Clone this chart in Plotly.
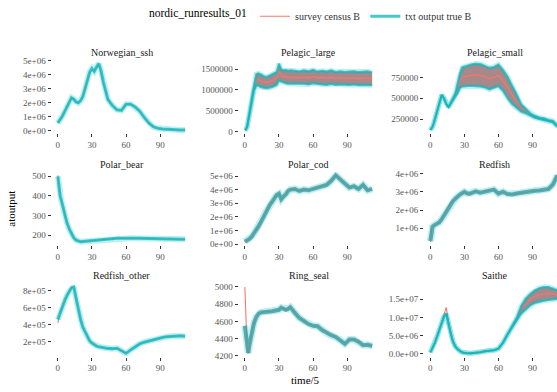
import plotly.graph_objects as go

# ---------------- data ----------------
TIME = [0, 1, 2, 3, 4, 6, 8, 10, 12, 14, 16, 18, 20, 22, 24, 26, 28, 30, 32, 34, 36, 38, 40,
        44, 48, 52, 56, 60, 64, 68, 72, 76, 80, 84, 88, 92, 96, 100, 104, 108, 112]

# Norwegian_ssh (millions)
NORWEGIAN_SSH_TRUE = [0.55, 0.65, 0.78, 0.92, 1.05, 1.35, 1.7, 2.05, 2.35, 2.25, 2.05, 2.0, 2.15, 2.45, 3.0, 3.7,
                      4.2, 4.45, 4.25, 4.55, 4.8, 4.3, 3.5, 2.25, 1.8, 1.5, 1.45, 1.9, 1.9, 1.7, 1.4, 0.95,
                      0.55, 0.28, 0.17, 0.12, 0.09, 0.07, 0.06, 0.05, 0.05]
NORWEGIAN_SSH_SURVEY = [0.55, 0.65, 0.78, 0.92, 1.05, 1.35, 1.7, 2.05, 2.35, 2.25, 2.05, 2.0, 2.15, 2.45, 3.0, 3.7,
                        4.1, 4.35, 4.25, 4.5, 4.75, 4.1, 3.4, 2.25, 1.8, 1.5, 1.45, 1.9, 1.9, 1.7, 1.4, 0.95,
                        0.55, 0.28, 0.17, 0.12, 0.09, 0.07, 0.06, 0.05, 0.05]

# Pelagic_large (millions)
PELAGIC_LARGE_TRUE_HI = [0.05, 0.07, 0.13, 0.3, 0.48, 0.8, 1.12, 1.38, 1.4, 1.37, 1.33, 1.31, 1.32, 1.35, 1.38, 1.4,
                         1.43, 1.63, 1.5, 1.47, 1.48, 1.46, 1.47, 1.46, 1.44, 1.47, 1.45, 1.48, 1.44, 1.46, 1.44,
                         1.47, 1.43, 1.45, 1.43, 1.44, 1.45, 1.43, 1.44, 1.45, 1.42]
PELAGIC_LARGE_TRUE_LO = [0.04, 0.05, 0.1, 0.25, 0.42, 0.72, 0.98, 1.1, 1.1, 1.07, 1.05, 1.04, 1.04, 1.05, 1.07, 1.09,
                         1.12, 1.22, 1.2, 1.17, 1.16, 1.15, 1.15, 1.14, 1.14, 1.15, 1.13, 1.16, 1.14, 1.13, 1.12,
                         1.14, 1.12, 1.13, 1.12, 1.12, 1.13, 1.11, 1.12, 1.12, 1.11]
PELAGIC_LARGE_SURVEY = [0.045, 0.06, 0.115, 0.28, 0.45, 0.76, 1.05, 1.24, 1.25, 1.22, 1.19, 1.18, 1.18, 1.2, 1.22,
                        1.25, 1.28, 1.45, 1.35, 1.32, 1.32, 1.3, 1.31, 1.3, 1.29, 1.31, 1.29, 1.32, 1.29, 1.3,
                        1.28, 1.3, 1.28, 1.29, 1.28, 1.28, 1.29, 1.27, 1.28, 1.28, 1.26]

# Pelagic_small (thousands)
PELAGIC_SMALL_TRUE_HI = [120, 135, 160, 200, 250, 350, 470, 540, 500, 430, 395, 440, 500, 560, 680, 800, 870, 880,
                         890, 900, 905, 910, 915, 910, 890, 865, 875, 905, 840, 760, 650, 550, 430, 370, 320, 290,
                         270, 260, 240, 230, 170]
PELAGIC_SMALL_TRUE_LO = [120, 135, 160, 200, 250, 350, 470, 540, 500, 430, 395, 440, 490, 520, 560, 620, 640, 640,
                         645, 650, 650, 650, 645, 640, 630, 605, 625, 645, 590, 500, 430, 380, 340, 320, 290, 265,
                         250, 240, 225, 210, 160]
PELAGIC_SMALL_SURVEY = [120, 135, 160, 200, 250, 350, 470, 540, 500, 430, 395, 440, 495, 540, 620, 710, 755, 760,
                        768, 775, 778, 780, 780, 775, 760, 735, 750, 775, 715, 630, 540, 465, 385, 345, 305, 278,
                        260, 250, 232, 220, 165]

# Polar_bear
POLAR_BEAR_TRUE = [500, 435, 400, 378, 355, 300, 262, 231, 205, 186, 174, 168, 166, 167, 168, 170, 172, 173, 175,
                   176, 177, 178, 179, 181, 182, 183, 183, 184, 184, 183, 183, 182, 182, 181, 181, 180, 180, 179,
                   179, 178, 178]
POLAR_BEAR_SURVEY = [505, 440, 400, 378, 355, 300, 262, 231, 205, 186, 174, 168, 166, 167, 168, 170, 172, 173, 175,
                     176, 177, 178, 179, 181, 182, 183, 183, 184, 184, 183, 183, 182, 182, 181, 181, 180, 180, 179,
                     179, 178, 178]

# Polar_cod (millions)
POLAR_COD_TRUE = [0.18, 0.22, 0.27, 0.32, 0.38, 0.55, 0.78, 1.02, 1.3, 1.6, 1.95, 2.3, 2.6, 2.88, 3.12, 3.38, 3.6,
                  3.7, 3.3, 3.5, 3.65, 3.9, 4.0, 4.05, 3.9, 4.0, 3.95, 4.05, 4.15, 4.25, 4.35, 4.65, 5.05, 4.75,
                  4.4, 4.15, 4.25, 4.05, 4.35, 3.95, 4.05]
POLAR_COD_SURVEY = [0.18, 0.22, 0.27, 0.32, 0.38, 0.55, 0.78, 1.02, 1.3, 1.6, 1.95, 2.3, 2.6, 2.88, 3.12, 3.38, 3.6,
                    3.7, 3.3, 3.5, 3.65, 3.9, 4.0, 4.05, 3.9, 4.0, 3.95, 4.05, 4.15, 4.25, 4.35, 4.65, 5.05, 4.75,
                    4.4, 4.15, 4.25, 4.05, 4.35, 3.95, 4.05]

# Redfish (millions)
REDFISH_TRUE = [0.3, 1.0, 1.1, 1.15, 1.18, 1.25, 1.33, 1.5, 1.7, 1.95, 2.2, 2.4, 2.5, 2.62, 2.75, 2.85, 2.92, 3.0,
                2.92, 2.88, 2.93, 3.0, 3.02, 2.95, 3.02, 3.05, 3.12, 2.9, 3.0, 2.88, 2.85, 2.9, 2.95, 2.98, 3.0,
                3.05, 3.07, 3.1, 3.15, 3.4, 3.9]
REDFISH_SURVEY = [0.27, 1.0, 1.1, 1.15, 1.18, 1.25, 1.33, 1.5, 1.7, 1.95, 2.2, 2.4, 2.5, 2.62, 2.75, 2.85, 2.92,
                  3.0, 2.92, 2.88, 2.93, 3.0, 3.02, 2.95, 3.02, 3.05, 3.12, 2.9, 3.0, 2.88, 2.85, 2.9, 2.95, 2.98,
                  3.0, 3.05, 3.07, 3.1, 3.15, 3.4, 3.9]

# Redfish_other (hundred-thousands)
REDFISH_OTHER_TRUE = [4.6, 5.0, 5.4, 5.8, 6.1, 6.8, 7.4, 7.9, 8.3, 8.4, 7.0, 5.6, 4.6, 3.7, 3.1, 2.5, 2.1, 1.85,
                      1.65, 1.5, 1.42, 1.36, 1.3, 1.22, 1.2, 1.25, 0.95, 0.65, 1.05, 1.45, 1.75, 1.95, 2.1, 2.25,
                      2.4, 2.5, 2.6, 2.65, 2.7, 2.7, 2.65]
REDFISH_OTHER_SURVEY = [4.2, 5.0, 5.4, 5.8, 6.1, 6.8, 7.4, 7.9, 8.3, 8.4, 7.0, 5.6, 4.6, 3.7, 3.1, 2.5, 2.1, 1.85,
                        1.65, 1.5, 1.42, 1.36, 1.3, 1.22, 1.2, 1.25, 0.95, 0.65, 1.05, 1.45, 1.75, 1.95, 2.1, 2.25,
                        2.4, 2.5, 2.6, 2.65, 2.7, 2.7, 2.65]

# Ring_seal
RING_SEAL_TRUE = [4550, 4430, 4300, 4235, 4330, 4480, 4580, 4650, 4690, 4705, 4710, 4715, 4712, 4715, 4718, 4722,
                  4728, 4735, 4760, 4750, 4735, 4745, 4765, 4700, 4640, 4605, 4570, 4550, 4545, 4500, 4465, 4440,
                  4420, 4385, 4340, 4390, 4390, 4365, 4325, 4330, 4315]
RING_SEAL_SURVEY = [5000, 4590, 4280, 4230, 4330, 4480, 4580, 4650, 4690, 4705, 4710, 4715, 4712, 4715, 4718, 4722,
                    4728, 4735, 4760, 4750, 4735, 4745, 4765, 4700, 4640, 4605, 4570, 4550, 4545, 4500, 4465, 4440,
                    4420, 4385, 4340, 4390, 4390, 4365, 4325, 4330, 4315]

# Saithe (millions)
SAITHE_TRUE_HI = [0.36, 1.0, 1.6, 2.3, 3.0, 4.8, 6.7, 8.6, 10.2, 11.0, 8.0, 5.5, 3.3, 2.0, 1.2, 0.7, 0.4, 0.2, 0.1,
                  0.1, 0.15, 0.2, 0.25, 0.4, 0.7, 0.9, 0.95, 1.4, 3.0, 5.3, 7.5, 9.9, 13.2, 15.2, 16.5, 17.5, 18.1,
                  18.4, 18.4, 18.0, 17.5]
SAITHE_TRUE_LO = [0.36, 1.0, 1.6, 2.3, 3.0, 4.8, 6.7, 8.6, 10.2, 11.0, 8.0, 5.5, 3.3, 2.0, 1.2, 0.7, 0.4, 0.2, 0.1,
                  0.1, 0.15, 0.2, 0.25, 0.4, 0.7, 0.9, 0.95, 1.4, 3.0, 5.3, 7.3, 9.2, 11.0, 12.2, 13.3, 14.0, 14.4,
                  14.6, 14.8, 15.0, 15.1]
SAITHE_SURVEY = [0.36, 1.0, 1.6, 2.3, 3.0, 4.8, 6.7, 8.6, 10.4, 12.8, 8.8, 5.5, 3.3, 2.0, 1.2, 0.7, 0.4, 0.2, 0.1,
                 0.1, 0.15, 0.2, 0.25, 0.4, 0.7, 0.9, 0.95, 1.4, 3.0, 5.3, 7.4, 9.55, 12.1, 13.7, 14.9, 15.75, 16.25,
                 16.5, 16.6, 16.5, 16.3]

# tick labels
X_TICKS = [0, 30, 60, 90]
SCI6_TICKS = [0, 1e6, 2e6, 3e6, 4e6, 5e6]
SCI6_LABELS = ["0e+00", "1e+06", "2e+06", "3e+06", "4e+06", "5e+06"]
PELAGIC_LARGE_TICKS = [0, 500000, 1000000, 1500000]
PELAGIC_LARGE_LABELS = ["0", "500000", "1000000", "1500000"]
PELAGIC_SMALL_TICKS = [250000, 500000, 750000]
PELAGIC_SMALL_LABELS = ["250000", "500000", "750000"]
POLAR_BEAR_TICKS = [200, 300, 400, 500]
POLAR_BEAR_LABELS = ["200", "300", "400", "500"]
REDFISH_TICKS = [1e6, 2e6, 3e6, 4e6]
REDFISH_LABELS = ["1e+06", "2e+06", "3e+06", "4e+06"]
REDFISH_OTHER_TICKS = [2e5, 4e5, 6e5, 8e5]
REDFISH_OTHER_LABELS = ["2e+05", "4e+05", "6e+05", "8e+05"]
RING_SEAL_TICKS = [4200, 4400, 4600, 4800, 5000]
RING_SEAL_LABELS = ["4200", "4400", "4600", "4800", "5000"]
SAITHE_TICKS = [0, 5e6, 1e7, 1.5e7]
SAITHE_LABELS = ["0.0e+00", "5.0e+06", "1.0e+07", "1.5e+07"]

# name, unit, true(or hi), true lo (band) or None, survey, ticks, labels, style
PANELS = [
    ("Norwegian_ssh", 1e6, NORWEGIAN_SSH_TRUE, None, NORWEGIAN_SSH_SURVEY, SCI6_TICKS, SCI6_LABELS, "smooth"),
    ("Pelagic_large", 1e6, PELAGIC_LARGE_TRUE_HI, PELAGIC_LARGE_TRUE_LO, PELAGIC_LARGE_SURVEY,
     PELAGIC_LARGE_TICKS, PELAGIC_LARGE_LABELS, "band"),
    ("Pelagic_small", 1e3, PELAGIC_SMALL_TRUE_HI, PELAGIC_SMALL_TRUE_LO, PELAGIC_SMALL_SURVEY,
     PELAGIC_SMALL_TICKS, PELAGIC_SMALL_LABELS, "band"),
    ("Polar_bear", 1, POLAR_BEAR_TRUE, None, POLAR_BEAR_SURVEY, POLAR_BEAR_TICKS, POLAR_BEAR_LABELS, "smooth"),
    ("Polar_cod", 1e6, POLAR_COD_TRUE, None, POLAR_COD_SURVEY, SCI6_TICKS, SCI6_LABELS, "noisy"),
    ("Redfish", 1e6, REDFISH_TRUE, None, REDFISH_SURVEY, REDFISH_TICKS, REDFISH_LABELS, "noisy"),
    ("Redfish_other", 1e5, REDFISH_OTHER_TRUE, None, REDFISH_OTHER_SURVEY, REDFISH_OTHER_TICKS,
     REDFISH_OTHER_LABELS, "smooth"),
    ("Ring_seal", 1, RING_SEAL_TRUE, None, RING_SEAL_SURVEY, RING_SEAL_TICKS, RING_SEAL_LABELS, "noisy"),
    ("Saithe", 1e6, SAITHE_TRUE_HI, SAITHE_TRUE_LO, SAITHE_SURVEY, SAITHE_TICKS, SAITHE_LABELS, "band"),
]

# ---------------- layout geometry (pixels) ----------------
W, H = 557, 392
COL_PX = [(51.5, 191.5), (238.5, 378.5), (424.0, 557.0)]
COL_XRANGE = [(-5.6, 117.6), (-5.6, 117.6), (-5.6, 111.6)]
ROW_PX = [(57.5, 132.0), (171.5, 246.0), (285.5, 360.0)]
STRIP_Y = [50.0, 164.0, 277.0]
COL_CENTER = [121.5, 308.5, 494.5]

FONT = "Liberation Serif, Times New Roman, DejaVu Serif, serif"
TEAL = "#00BFC4"
RED = "#F8766D"

fig = go.Figure()
layout_axes = {}
annotations = []

for i, (name, unit, t_hi, t_lo, survey, ytv, ytt, style) in enumerate(PANELS):
    r, c = divmod(i, 3)
    k = "" if i == 0 else str(i + 1)
    xa, ya = "x" + k, "y" + k
    hi = [v * unit for v in t_hi]
    lo = [v * unit for v in t_lo] if t_lo is not None else None
    sv = [v * unit for v in survey]
    first = i == 0

    if lo is not None:
        fig.add_trace(go.Scatter(x=TIME, y=lo, mode="lines", line=dict(width=0, color=TEAL),
                                 xaxis=xa, yaxis=ya, showlegend=False, hoverinfo="skip"))
        fig.add_trace(go.Scatter(x=TIME, y=hi, mode="lines", line=dict(width=0, color=TEAL),
                                 fill="tonexty", fillcolor="rgba(170,136,138,1)",
                                 xaxis=xa, yaxis=ya, showlegend=False, hoverinfo="skip"))
    fig.add_trace(go.Scatter(x=TIME, y=sv, mode="lines", name="survey census B",
                             line=dict(color=RED, width=1.1), xaxis=xa, yaxis=ya,
                             showlegend=first, legendgroup="survey"))
    if lo is not None:
        for edge in (lo, hi):
            fig.add_trace(go.Scatter(x=TIME, y=edge, mode="lines", line=dict(color="rgba(0,191,196,0.25)", width=5),
                                     xaxis=xa, yaxis=ya, showlegend=False, hoverinfo="skip"))
            fig.add_trace(go.Scatter(x=TIME, y=edge, mode="lines", line=dict(color="rgba(20,182,188,0.75)", width=2),
                                     xaxis=xa, yaxis=ya, showlegend=False, hoverinfo="skip"))
    else:
        if style == "noisy":
            halo_w, core_w, core_c = 7, 4, "rgba(70,160,163,0.85)"
        else:
            halo_w, core_w, core_c = 6, 3, "rgba(20,186,192,0.8)"
        fig.add_trace(go.Scatter(x=TIME, y=hi, mode="lines", line=dict(color="rgba(0,191,196,0.25)", width=halo_w),
                                 xaxis=xa, yaxis=ya, showlegend=False, hoverinfo="skip"))
        fig.add_trace(go.Scatter(x=TIME, y=hi, mode="lines", name="txt output true B",
                                 line=dict(color=core_c, width=core_w), xaxis=xa, yaxis=ya,
                                 showlegend=first, legendgroup="true"))

    allv = hi + (lo or []) + sv
    vmin, vmax = min(allv), max(allv)
    pad = 0.05 * (vmax - vmin)

    x0, x1 = COL_PX[c]
    y0, y1 = ROW_PX[r]
    layout_axes["xaxis" + k] = dict(
        domain=[x0 / W, x1 / W], range=list(COL_XRANGE[c]), anchor=ya,
        tickvals=X_TICKS, ticktext=[str(v) for v in X_TICKS],
        ticks="outside", ticklen=3, tickwidth=1, tickcolor="#333333",
        showgrid=False, zeroline=False, showline=False,
        tickfont=dict(family=FONT, size=9, color="#555555"))
    layout_axes["yaxis" + k] = dict(
        domain=[1 - y1 / H, 1 - y0 / H], range=[vmin - pad, vmax + pad], anchor=xa,
        tickvals=ytv, ticktext=ytt,
        ticks="outside", ticklen=3, tickwidth=1, tickcolor="#333333",
        showgrid=False, zeroline=False, showline=False,
        tickfont=dict(family=FONT, size=9, color="#555555"))
    annotations.append(dict(text=name, x=COL_CENTER[c] / W, y=1 - STRIP_Y[r] / H, xref="paper", yref="paper",
                            showarrow=False, xanchor="center", yanchor="middle",
                            font=dict(family=FONT, size=10, color="#1a1a1a")))

annotations.append(dict(text="time/5", x=305 / W, y=1 - 384 / H, xref="paper", yref="paper",
                        showarrow=False, xanchor="center", yanchor="middle",
                        font=dict(family=FONT, size=11, color="#000000")))
annotations.append(dict(text="atoutput", x=11 / W, y=1 - 209 / H, xref="paper", yref="paper",
                        showarrow=False, xanchor="center", yanchor="middle", textangle=-90,
                        font=dict(family=FONT, size=11, color="#000000")))

fig.update_layout(
    width=W, height=H,
    margin=dict(l=0, r=0, t=0, b=0),
    paper_bgcolor="white", plot_bgcolor="white",
    annotations=annotations,
    legend=dict(orientation="h", x=312 / W, xanchor="center", y=1 - 12.5 / H, yanchor="middle",
                title=dict(text="nordic_runresults_01", side="left",
                           font=dict(family=FONT, size=11.5, color="#000000")),
                font=dict(family=FONT, size=10, color="#333333"),
                itemwidth=30, tracegroupgap=0, bgcolor="rgba(0,0,0,0)"),
    **layout_axes,
)

fig.write_html("out.html")
